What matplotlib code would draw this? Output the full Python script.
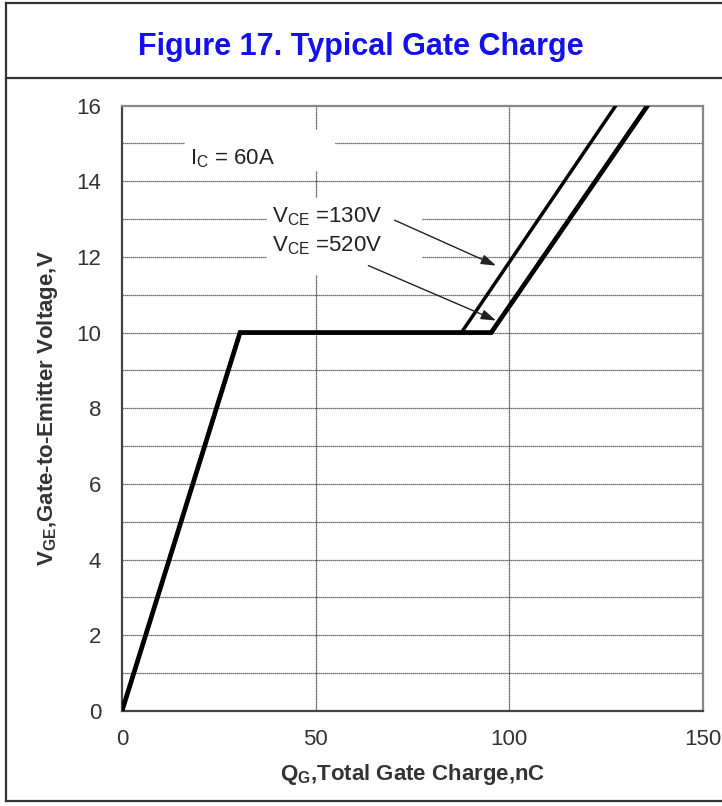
import matplotlib.pyplot as plt
from matplotlib.lines import Line2D

plt.rcParams['font.family'] = ['Liberation Sans', 'DejaVu Sans']

# gate charge curves (nC, V)
q_130 = [0, 30.5, 87.7, 127.6]
v_130 = [0, 10, 10, 16]
q_520 = [0, 30.5, 95.4, 135.8]
v_520 = [0, 10, 10, 16]

x_ticks = [0, 50, 100, 150]
y_ticks = [0, 2, 4, 6, 8, 10, 12, 14, 16]

fig = plt.figure(figsize=(7.22, 8.06), dpi=100)
ax = fig.add_axes([0.169, 0.118, 0.804, 0.751])

# horizontal grid every 1 V, vertical at 50 and 100
for y in range(1, 16):
    ax.axhline(y, color='#444444', lw=0.9, ls=(0, (1, 0.6)), zorder=1)
for x in [50, 100]:
    ax.axvline(x, color='#333333', lw=0.9, ls=(0, (1, 0.6)), zorder=1)

ax.plot(q_130, v_130, color='black', lw=2.5, zorder=3, solid_joinstyle='miter')
ax.plot(q_520, v_520, color='black', lw=3.4, zorder=4, solid_joinstyle='miter')

ax.set_xlim(0, 150)
ax.set_ylim(0, 16)
ax.set_xticks(x_ticks)
ax.set_yticks(y_ticks)
ax.tick_params(length=0, labelsize=16, colors='#333333')
ax.tick_params(axis='x', pad=13)
ax.tick_params(axis='y', pad=15)
for s in ax.spines.values():
    s.set_color('#888888')
    s.set_linewidth(1.6)
ax.spines['left'].set_color('#444444')
ax.spines['bottom'].set_color('#444444')

ax.set_xlabel(r'Q$_{\mathregular{G}}$,Total Gate Charge,nC', fontsize=16,
              fontweight='bold', color='#333333')
ax.set_ylabel(r'V$_{\mathregular{GE}}$,Gate-to-Emitter Voltage,V', fontsize=16,
              fontweight='bold', color='#333333')
ax.xaxis.set_label_coords(0.5, -0.085)
ax.yaxis.set_label_coords(-0.107, 0.5)

# white patches so grid does not run through the labels
ax.fill_between([16.2, 54.8], 14.3, 15.35, color='white', zorder=2)
ax.fill_between([37.5, 77.2], 11.55, 13.55, color='white', zorder=2)
ax.text(17.5, 14.6, r'I$_{\mathregular{C}}$ = 60A', fontsize=16, va='center',
        color='#222222', zorder=5)
ax.text(38.8, 13.05, r'V$_{\mathregular{CE}}$ =130V', fontsize=16, va='center',
        color='#222222', zorder=5)
ax.text(38.8, 12.3, r'V$_{\mathregular{CE}}$ =520V', fontsize=16, va='center',
        color='#222222', zorder=5)

arrow = dict(arrowstyle='-|>,head_length=0.9,head_width=0.3', color='#222222', lw=1.0)
ax.annotate('', xy=(97.3, 11.74), xytext=(69.8, 13.0), arrowprops=arrow, zorder=6)
ax.annotate('', xy=(97.3, 10.29), xytext=(63.0, 11.8), arrowprops=arrow, zorder=6)

# title band and outer frame
fig.text(0.5, 0.942, 'Figure 17. Typical Gate Charge', ha='center', va='center',
         fontsize=22, fontweight='bold', color='#1010f0')
fig.add_artist(Line2D([0.008, 1.0], [0.903, 0.903], color='#333333', lw=1.6))
fig.add_artist(Line2D([0.008, 0.008], [0.006, 0.996], color='#333333', lw=1.6))
fig.add_artist(Line2D([0.008, 1.0], [0.996, 0.996], color='#333333', lw=1.6))
fig.add_artist(Line2D([0.008, 1.0], [0.006, 0.006], color='#333333', lw=1.6))

fig.savefig('out.png', dpi=100)
